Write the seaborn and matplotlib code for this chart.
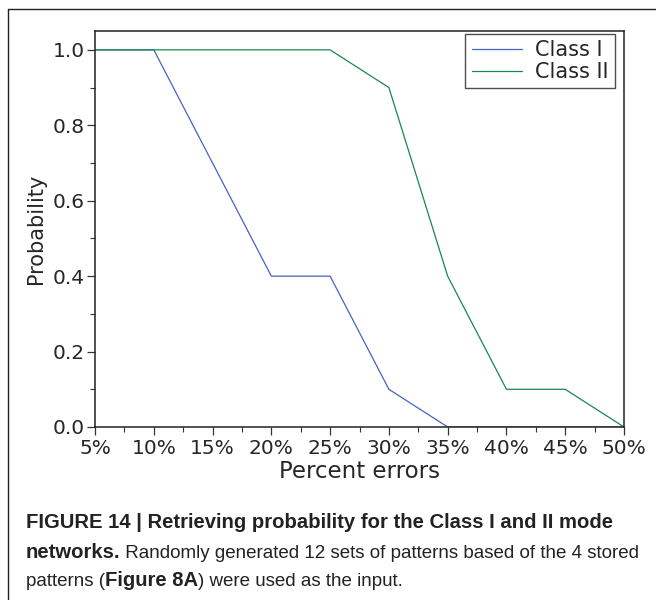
import matplotlib
matplotlib.use("Agg")
import matplotlib.pyplot as plt
from matplotlib.lines import Line2D
from matplotlib.ticker import MultipleLocator, FixedLocator, FormatStrFormatter
import seaborn as sns
import pandas as pd

# Retrieval probability against the percentage of corrupted bits
percent_errors = [5, 10, 15, 20, 25, 30, 35, 40, 45, 50]
class_i = [1.0, 1.0, 0.7, 0.4, 0.4, 0.1, 0.0, 0.0, 0.0, 0.0]
class_ii = [1.0, 1.0, 1.0, 1.0, 1.0, 0.9, 0.4, 0.1, 0.1, 0.0]
series_names = ["Class I", "Class II"]
series_colors = ["#4563c4", "#17894a"]
x_tick_labels = [f"{p}%" for p in percent_errors]

df = pd.DataFrame({
    "Percent errors": percent_errors * 2,
    "Probability": class_i + class_ii,
    "Network": [series_names[0]] * len(class_i) + [series_names[1]] * len(class_ii),
})

sns.set_theme(style="white")
plt.rcParams["font.family"] = ["DejaVu Sans"]

W, H = 656, 600
fig = plt.figure(figsize=(W / 100, H / 100), dpi=100)
ax = fig.add_axes([95 / W, 1 - 427 / H, (624 - 95) / W, (427 - 31) / H])

sns.lineplot(data=df, x="Percent errors", y="Probability", hue="Network",
             palette=dict(zip(series_names, series_colors)), linewidth=0.9,
             legend=False, ax=ax)

ax.set_xlim(5, 50)
ax.set_ylim(0, 1.05)
ax.xaxis.set_major_locator(FixedLocator(percent_errors))
ax.set_xticklabels(x_tick_labels)
ax.xaxis.set_minor_locator(MultipleLocator(2.5))
ax.yaxis.set_major_locator(MultipleLocator(0.2))
ax.yaxis.set_minor_locator(MultipleLocator(0.1))
ax.yaxis.set_major_formatter(FormatStrFormatter("%.1f"))

ax.tick_params(axis="both", which="major", direction="out", length=6, width=0.9,
               color="#333333", labelsize=14.5, bottom=True, left=True)
ax.tick_params(axis="x", which="major", pad=3)
ax.tick_params(axis="y", which="major", pad=1.5)
ax.tick_params(axis="both", which="minor", direction="out", length=3.5, width=0.8,
               color="#333333", bottom=True, left=True)
for side in ["top", "right", "bottom", "left"]:
    ax.spines[side].set_visible(True)
    ax.spines[side].set_color("#222222")
    ax.spines[side].set_linewidth(1.1)
ax.grid(False)

ax.set_xlabel("Percent errors", fontsize=16.5, labelpad=1)
ax.set_ylabel("Probability", fontsize=15, labelpad=5)

handles = [Line2D([0], [0], color=c, lw=0.9) for c in series_colors]
leg = ax.legend(handles, series_names, loc="upper right",
                bbox_to_anchor=((615 - 95) / (624 - 95), (427 - 34) / (427 - 31)),
                fontsize=15, frameon=True, fancybox=False, borderpad=0.3,
                labelspacing=0.08, handlelength=2.4, handletextpad=0.65,
                borderaxespad=0.0)
leg.get_frame().set_edgecolor("#222222")
leg.get_frame().set_linewidth(1.0)

# Panel frame
fig.add_artist(Line2D([8 / W, 8 / W], [0, 1 - 9 / H], transform=fig.transFigure,
                      color="#222222", lw=1.0))
fig.add_artist(Line2D([8 / W, 1], [1 - 9 / H, 1 - 9 / H], transform=fig.transFigure,
                      color="#222222", lw=1.0))

# Caption with mixed bold / regular runs
cap_family = ["Liberation Sans", "DejaVu Sans"]
run_size = {"bold": 14.6, "normal": 13.5}
fig.canvas.draw()
renderer = fig.canvas.get_renderer()


def caption_line(y_px, runs):
    x = 26 / W
    y = 1 - y_px / H
    for text, weight in runs:
        t = fig.text(x, y, text, fontsize=run_size[weight], fontweight=weight,
                     family=cap_family, color="#222222", va="center", ha="left")
        bb = t.get_window_extent(renderer=renderer)
        x = bb.x1 / fig.bbox.width


caption_line(522, [("FIGURE 14 | Retrieving probability for the Class I and II mode", "bold")])
caption_line(553, [("networks.", "bold"),
                   (" Randomly generated 12 sets of patterns based of the 4 stored", "normal")])
caption_line(581, [("patterns (", "normal"), ("Figure 8A", "bold"),
                   (") were used as the input.", "normal")])

fig.savefig("out.png", dpi=100)
